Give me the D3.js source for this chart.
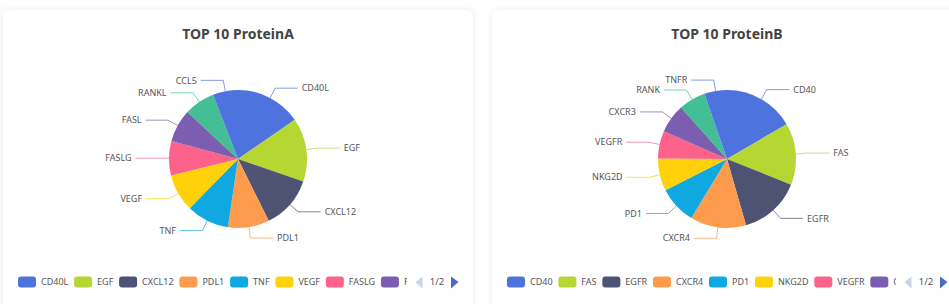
<!DOCTYPE html>
<html>
<head>
<meta charset="utf-8">
<script src="https://cdn.jsdelivr.net/npm/d3@7/dist/d3.min.js"></script>
<style>
  html, body { margin: 0; padding: 0; background: #fff; }
  svg { display: block; font-family: "Noto Sans", "Open Sans", sans-serif; }
</style>
</head>
<body>
<svg id="chart" width="949" height="304"></svg>
<script>
// data
var titles = ["TOP 10 ProteinA", "TOP 10 ProteinB"];
var proteinsA = ["CD40L", "EGF", "CXCL12", "PDL1", "TNF", "VEGF", "FASLG", "FASL", "RANKL", "CCL5"];
var countsA = [154, 149, 124, 97, 100, 88, 81, 77, 72, 59];
var proteinsB = ["CD40", "FAS", "EGFR", "CXCR4", "PD1", "NKG2D", "VEGFR", "CXCR3", "RANK", "TNFR"];
var countsB = [166, 145, 145, 131, 89, 76, 65, 68, 63, 53];
var pageLabel = "1/2";

var palette = ["#4e72de", "#b6d634", "#4e5273", "#ff9b4d", "#0fa8e0", "#ffd10a", "#fc628a", "#7b5eb0", "#42bf94"];

var cardW = 470, cardH = 300, radius = 69, legendClip = 404;
var svg = d3.select("#chart");

var defs = svg.append("defs");
var f = defs.append("filter").attr("id", "shadow")
  .attr("x", "-10%").attr("y", "-10%").attr("width", "120%").attr("height", "120%");
f.append("feDropShadow").attr("dx", 0).attr("dy", 0).attr("stdDeviation", 3)
  .attr("flood-color", "#000").attr("flood-opacity", 0.09);

function drawCard(x0, idx, names, values) {
  var g = svg.append("g").attr("transform", "translate(" + x0 + ",10)");

  g.append("rect")
    .attr("width", cardW).attr("height", cardH)
    .attr("rx", 6)
    .attr("fill", "#fff")
    .attr("filter", "url(#shadow)");

  g.append("text")
    .attr("x", cardW / 2).attr("y", 28.5)
    .attr("text-anchor", "middle")
    .attr("font-size", 14).attr("font-weight", "bold")
    .attr("fill", "#444")
    .text(titles[idx]);

  var color = d3.scaleOrdinal().domain(names).range(palette);
  var pie = d3.pie().sort(null).value(function(d) { return d.value; });
  var arcs = pie(names.map(function(n, i) { return { name: n, value: values[i] }; }));
  var arc = d3.arc().innerRadius(0).outerRadius(radius);

  var p = g.append("g").attr("transform", "translate(" + (cardW / 2) + ",149)");

  p.selectAll("path.slice")
    .data(arcs)
    .enter().append("path")
    .attr("class", "slice")
    .attr("d", arc)
    .attr("fill", function(d) { return color(d.data.name); });

  // label lines: radial piece then horizontal piece
  arcs.forEach(function(d) {
    var a = (d.startAngle + d.endAngle) / 2;
    var s = Math.sin(a), c = -Math.cos(a);
    var side = s >= 0 ? 1 : -1;
    var p1 = [radius * s, radius * c];
    var p2 = [(radius + 11) * s, (radius + 11) * c];
    var p3 = [p2[0] + side * 22.5, p2[1]];
    p.append("polyline")
      .attr("points", [p1, p2, p3].map(function(q) { return q.join(","); }).join(" "))
      .attr("fill", "none")
      .attr("stroke", color(d.data.name))
      .attr("stroke-opacity", 0.7)
      .attr("stroke-width", 1);
    p.append("text")
      .attr("x", p3[0] + side * 4)
      .attr("y", p3[1])
      .attr("dy", "0.35em")
      .attr("text-anchor", side > 0 ? "start" : "end")
      .attr("font-size", 9)
      .attr("fill", "#555")
      .text(d.data.name);
  });

  // legend page 1, clipped, with pager
  var clipId = "clip" + idx;
  defs.append("clipPath").attr("id", clipId)
    .append("rect").attr("x", 0).attr("y", 250).attr("width", legendClip).attr("height", 40);

  var leg = g.append("g").attr("clip-path", "url(#" + clipId + ")");
  var lx = 15;
  names.forEach(function(n) {
    if (lx >= legendClip) return; // these sit on page 2
    leg.append("rect")
      .attr("x", lx).attr("y", 266.5)
      .attr("width", 18).attr("height", 11)
      .attr("rx", 3)
      .attr("fill", color(n));
    var t = leg.append("text")
      .attr("x", lx + 23).attr("y", 272)
      .attr("dy", "0.35em")
      .attr("font-size", 9)
      .attr("fill", "#555")
      .text(n);
    lx += 23 + t.node().getComputedTextLength() + 5.8;
  });

  g.append("path")
    .attr("d", "M419.5,266.5 L412.5,272 L419.5,278.5 Z")
    .attr("fill", "#c9d3ee");
  g.append("text")
    .attr("x", 434).attr("y", 272)
    .attr("dy", "0.35em")
    .attr("text-anchor", "middle")
    .attr("font-size", 9.5)
    .attr("fill", "#555")
    .text(pageLabel);
  g.append("path")
    .attr("d", "M448,266.5 L455.5,272 L448,278.5 Z")
    .attr("fill", "#4a6bc8");
}

drawCard(3, 0, proteinsA, countsA);
drawCard(492, 1, proteinsB, countsB);
</script>
</body>
</html>
